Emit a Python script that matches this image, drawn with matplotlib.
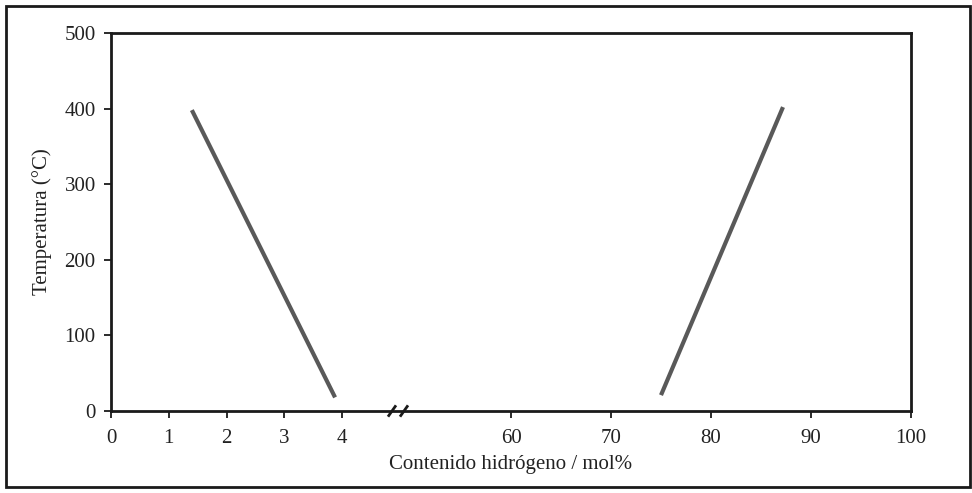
import numpy as np
import matplotlib
matplotlib.use("Agg")
import matplotlib.pyplot as plt
from matplotlib.patches import Rectangle
from matplotlib.lines import Line2D

plt.rcParams['font.family'] = ['Liberation Serif', 'DejaVu Serif']

# Data
low_h2 = [1.40, 3.88]
low_temp = [398, 18]
high_h2 = [75.0, 87.2]
high_temp = [21, 402]
xticks = [0, 1, 2, 3, 4, 60, 70, 80, 90, 100]
yticks = [0, 100, 200, 300, 400, 500]
xlabel = "Contenido hidrógeno / mol%"
ylabel = "Temperatura (°C)"

# Broken x scale: 0-5 stretched, 48.875-100 compressed
BRK_L, BRK_R = 5.0, 48.875
SL, SR = 57.75, 10.0
P_BRK = BRK_L * SL

def fwd(x):
    x = np.asarray(x, dtype=float)
    return np.where(x <= BRK_L, x * SL,
                    np.where(x >= BRK_R, P_BRK + (x - BRK_R) * SR, P_BRK))

def inv(p):
    p = np.asarray(p, dtype=float)
    return np.where(p <= P_BRK, p / SL, BRK_R + (p - P_BRK) / SR)

fig = plt.figure(figsize=(9.72, 4.93), dpi=100)
ax = fig.add_axes([111/972, 82/493, 800/972, 378/493])
ax.set_xscale('function', functions=(fwd, inv))

line_kw = dict(color='#595959', lw=3.0, solid_capstyle='butt')
ax.plot(low_h2, low_temp, **line_kw)
ax.plot(high_h2, high_temp, **line_kw)

ax.set_xlim(0, 100)
ax.set_ylim(0, 500)
ax.set_xticks(xticks)
ax.set_xticklabels([str(t) for t in xticks])
ax.set_yticks(yticks)
for s in ax.spines.values():
    s.set_linewidth(2.0)
    s.set_color('#1a1a1a')
ax.tick_params(axis='both', direction='out', length=5, width=1.3,
               labelsize=15, colors='#1a1a1a', labelcolor='#222222')
ax.tick_params(axis='x', pad=8)
ax.tick_params(axis='y', pad=6)

ax.set_xlabel(xlabel, fontsize=15, labelpad=5, color='#222222')
ax.set_ylabel(ylabel, fontsize=15, labelpad=9, color='#222222')

# break marks
bx = (398 - 111) / 800
for dx in (-0.0075, 0.0075):
    ax.add_line(Line2D([bx + dx - 0.004, bx + dx + 0.004], [-0.012, 0.012],
                       transform=ax.transAxes, color='#1a1a1a', lw=2.0,
                       clip_on=False))

# outer frame
fig.patches.append(Rectangle((6/972, 6/493), 964/972, 481/493,
                             transform=fig.transFigure, fill=False,
                             edgecolor='#1a1a1a', lw=2.0))

fig.savefig('out.png', dpi=100)
